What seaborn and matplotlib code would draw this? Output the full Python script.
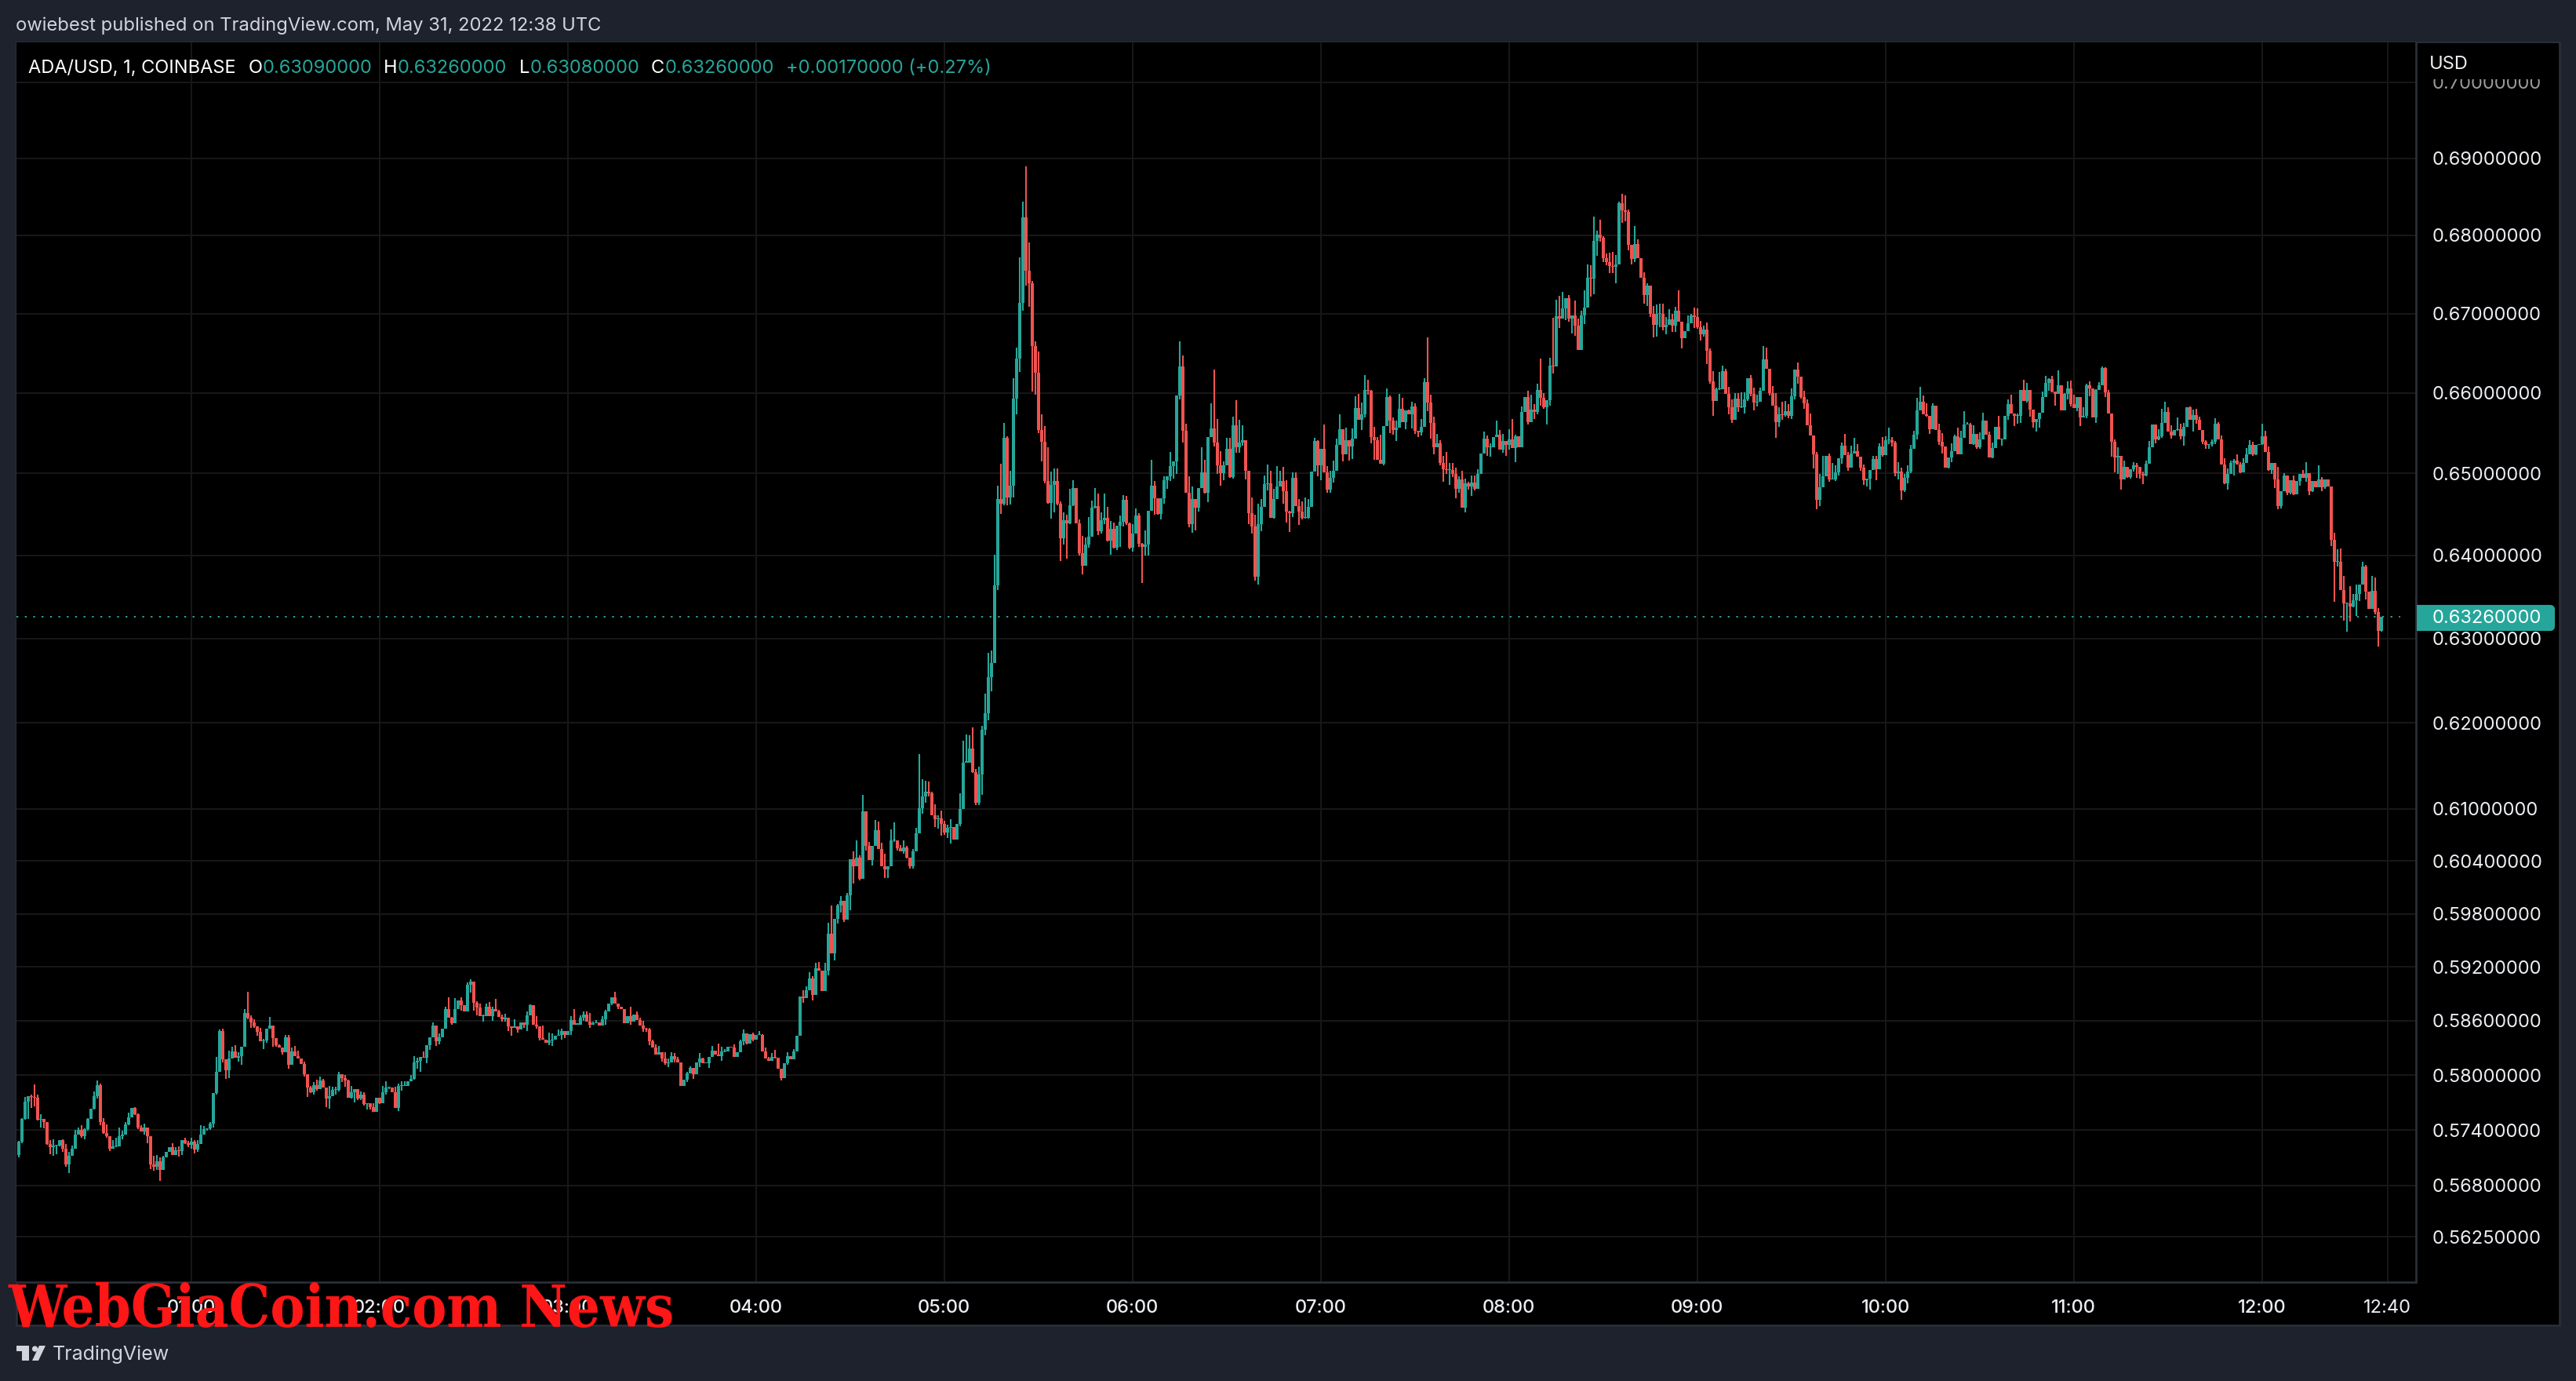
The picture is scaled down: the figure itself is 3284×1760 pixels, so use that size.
import numpy as np
import pandas as pd
import matplotlib
matplotlib.use("Agg")
import matplotlib.pyplot as plt
import seaborn as sns
from matplotlib.patches import Rectangle, Polygon, Circle, FancyBboxPatch
from matplotlib.ticker import NullLocator

# ADA/USD 1 minute candles, prices in 1/10000 USD
first_minute = 5   # minutes after 00:00
first_open = 5713

closes = [
    # 00:05 - 02:09
    5727,5752,5771,5777,5776,5775,5751,5752,5749,5725,5721,5723,5723,5729,5720,5703,5712,5720,5735,5740,5733,5741,5752,5763,5777,
    5789,5749,5737,5733,5720,5722,5722,5733,5735,5746,5754,5764,5757,5743,5738,5743,5733,5703,5700,5706,5697,5710,5716,5721,5713,
    5718,5717,5729,5726,5724,5727,5719,5725,5735,5741,5742,5747,5780,5804,5849,5817,5805,5818,5826,5819,5821,5831,5869,5863,5858,
    5854,5848,5837,5838,5851,5855,5841,5833,5830,5825,5842,5811,5826,5821,5818,5812,5801,5786,5781,5789,5785,5794,5786,5774,5777,
    5784,5784,5801,5797,5794,5775,5781,5785,5774,5779,5768,5769,5765,5760,5775,5769,5781,5786,5786,5781,5764,5788,5788,5788,5793,
    # 02:10 - 04:14
    5796,5814,5816,5820,5819,5833,5842,5855,5837,5842,5851,5873,5863,5857,5873,5883,5877,5870,5900,5904,5880,5875,5865,5865,5876,
    5865,5873,5870,5864,5862,5863,5854,5852,5854,5850,5858,5856,5866,5877,5856,5854,5841,5839,5836,5838,5839,5843,5844,5849,5844,
    5849,5861,5856,5856,5863,5867,5859,5856,5857,5858,5855,5862,5870,5879,5886,5879,5876,5873,5857,5865,5859,5867,5861,5855,5851,
    5850,5837,5830,5823,5825,5818,5813,5814,5821,5817,5814,5788,5795,5802,5808,5801,5814,5818,5813,5813,5820,5827,5823,5821,5826,
    5826,5831,5830,5820,5825,5837,5846,5835,5845,5839,5844,5844,5826,5818,5816,5820,5819,5807,5797,5813,5821,5817,5826,5843,5887,
    # 04:15 - 05:22
    5885,5894,5907,5889,5919,5916,5893,5916,5957,5935,5974,5989,5995,5973,6001,6042,6034,6044,6020,6097,6057,6041,6057,6075,6054,
    6034,6030,6034,6064,6064,6055,6051,6056,6044,6034,6051,6072,6101,6114,6120,6118,6093,6088,6089,6083,6073,6078,6079,6065,6083,
    6100,6154,6154,6170,6143,6107,6140,6192,6211,6254,6271,6364,6469,6463,6544,6471,6485,6593,
    # 05:23 - 07:41
    6643,6713,6823,6754,6738,6659,6625,6554,6539,6491,6464,6486,6491,6463,6421,6443,6439,6461,6482,6439,6403,6387,6413,6423,6458,
    6460,6429,6443,6446,6418,6432,6409,6436,6441,6468,6439,6409,6426,6448,6414,6410,6413,6454,6485,6470,6450,6470,6492,6497,6509,
    6515,6597,6633,6553,6476,6438,6469,6458,6482,6501,6476,6545,6556,6538,6510,6500,6510,6530,6496,6560,6532,6538,6541,6503,6451,
    6435,6374,6438,6459,6487,6488,6446,6469,6484,6491,6478,6453,6451,6495,6460,6453,6446,6446,6459,6502,6540,6510,6530,6501,6480,
    6495,6503,6535,6555,6524,6541,6533,6543,6581,6566,6573,6604,6603,6545,6541,6517,6512,6559,6595,6565,6554,6557,6580,6564,6578,
    6573,6583,6553,6551,6558,6613,6588,6563,6532,6537,6513,6505,6504,6504,
    # 07:42 - 10:01
    6499,6481,6493,6458,6488,6484,6489,6481,6499,6525,6543,6532,6532,6545,6548,6529,6540,6535,6542,6531,6546,6532,6576,6595,6564,
    6579,6576,6604,6594,6582,6591,6634,6633,6697,6694,6706,6719,6694,6698,6685,6654,6698,6707,6745,6744,6793,6801,6797,6771,6766,
    6761,6760,6763,6841,6832,6830,6788,6770,6789,6771,6745,6723,6735,6700,6686,6700,6700,6683,6686,6693,6685,6703,6690,6669,6678,
    6688,6698,6696,6683,6674,6680,6653,6614,6590,6605,6605,6627,6599,6582,6566,6593,6582,6582,6592,6618,6599,6588,6589,6603,6642,
    6630,6600,6584,6564,6573,6572,6577,6571,6596,6629,6620,6595,6587,6560,6547,6524,6468,6483,6497,6522,6493,6493,6501,6519,6534,
    6523,6507,6525,6528,6521,6507,6492,6494,6504,6518,6505,6533,6523,6541,6541,
    # 10:02 - 12:38
    6538,6500,6502,6479,6495,6502,6530,6548,6578,6589,6573,6571,6555,6584,6554,6539,6533,6507,6520,6528,6546,6524,6544,6561,6561,
    6536,6549,6532,6542,6565,6548,6520,6531,6558,6542,6542,6571,6586,6574,6571,6571,6604,6590,6604,6579,6564,6567,6575,6595,6612,
    6617,6602,6599,6610,6578,6599,6606,6586,6581,6595,6569,6571,6610,6606,6569,6604,6610,6631,6601,6574,6539,6520,6522,6493,6508,
    6496,6505,6510,6508,6499,6498,6512,6532,6561,6542,6546,6563,6576,6552,6547,6554,6555,6546,6558,6582,6566,6572,6566,6554,6539,
    6535,6536,6539,6562,6542,6511,6488,6499,6513,6516,6511,6501,6513,6524,6535,6524,6535,6536,6546,6527,6504,6513,6493,6460,6478,
    6498,6476,6492,6474,6491,6499,6495,6500,6478,6491,6483,6493,6483,6493,6484,6419,6392,6392,6358,6342,6342,6338,6346,6353,6365,
    6386,6356,6335,6357,6332,6309,6326,
]

# wick length above the body of each candle
upper_wicks = [
    1,1,5,0,2,14,4,5,0,0,4,7,1,0,1,5,4,3,5,3,5,1,1,0,5,
    5,2,4,9,0,7,10,10,4,3,5,0,1,1,2,4,0,0,9,7,4,2,0,0,5,
    3,4,0,3,2,5,2,4,10,3,0,2,0,16,1,2,0,9,5,7,4,0,4,23,3,
    4,0,4,2,0,9,0,0,1,0,2,2,4,6,6,0,3,0,2,3,6,4,2,0,11,
    3,3,3,0,3,1,7,0,0,3,2,0,0,4,0,0,7,7,1,0,6,3,5,5,0,
    4,7,3,0,6,0,0,3,0,4,0,3,13,1,12,0,3,0,3,2,0,2,4,2,3,
    5,3,11,2,3,5,0,0,8,0,0,0,4,1,0,9,0,14,0,9,7,0,6,2,0,
    0,4,12,0,3,3,3,10,2,3,0,3,2,0,0,6,0,0,0,0,11,0,3,2,5,
    1,2,2,4,7,0,7,4,4,3,3,0,0,2,2,0,0,6,1,0,0,5,0,12,5,
    3,0,0,4,0,2,4,0,0,2,0,5,1,4,2,4,8,0,0,0,4,0,3,0,0,
    7,4,7,3,6,7,0,9,13,32,0,2,5,0,3,0,9,20,3,19,0,5,0,12,10,
    7,14,0,12,20,0,3,8,1,0,3,6,63,20,13,12,2,12,4,9,3,4,9,0,0,
    18,25,33,16,25,3,9,5,24,29,15,37,16,43,19,2,18,25,
    14,59,20,66,37,3,6,27,19,20,41,16,15,15,3,9,6,20,10,0,5,21,9,24,9,
    22,15,9,29,13,10,8,0,7,5,4,1,12,9,3,1,17,0,32,6,0,0,5,0,18,
    0,0,32,14,9,21,15,0,0,31,16,0,31,73,29,18,5,14,14,10,31,28,19,0,0,
    20,14,25,10,11,23,15,12,25,12,17,14,1,6,6,9,13,25,10,0,4,1,0,31,8,
    8,13,8,18,0,16,0,13,15,18,15,18,12,1,13,4,31,0,11,2,4,8,19,14,0,
    1,6,4,0,9,5,57,10,7,12,4,9,22,9,
    9,8,4,10,6,2,9,9,6,0,9,4,5,0,17,6,9,0,13,25,2,0,7,0,8,
    19,7,7,39,6,0,10,61,20,25,21,0,4,0,18,9,5,22,18,17,31,5,19,2,6,
    12,18,12,2,13,20,3,0,23,6,0,7,3,0,9,11,12,12,10,12,7,5,26,0,0,
    10,2,9,10,8,5,9,3,13,2,21,7,3,9,10,7,7,19,9,0,4,8,9,4,17,
    15,0,9,16,9,16,13,9,10,0,9,0,8,5,14,0,3,16,25,0,3,20,9,0,4,
    15,4,9,16,8,0,4,0,0,4,4,4,12,5,16,
    4,2,12,5,4,8,5,5,16,19,8,14,0,3,0,8,11,0,0,9,2,11,9,16,3,
    2,11,0,9,10,0,4,7,0,13,0,0,6,12,0,3,0,12,8,0,0,0,0,7,9,
    1,4,0,18,0,1,8,9,12,0,0,11,1,4,0,1,3,2,1,3,0,3,10,0,8,
    0,0,4,3,0,3,4,8,0,0,9,17,13,6,8,0,14,7,5,0,1,7,8,4,0,
    2,0,3,6,2,5,8,7,3,2,8,3,6,7,6,4,0,0,16,7,6,0,0,15,0,
    2,0,0,6,0,0,5,14,0,0,0,17,3,0,0,0,8,15,16,17,0,21,7,12,0,
    6,2,0,18,16,4,0,
]

# wick length below the body of each candle
lower_wicks = [
    3,1,1,19,12,9,1,8,7,1,7,9,9,1,4,3,10,0,0,0,1,3,2,0,1,
    3,4,1,1,3,0,1,0,3,0,1,0,1,2,0,3,7,5,4,3,12,0,0,0,0,
    0,6,4,1,3,4,4,3,0,0,2,2,4,1,0,3,9,8,0,0,4,10,0,1,6,
    2,5,0,8,2,0,10,2,0,2,0,4,0,0,0,0,3,10,1,2,2,0,0,9,11,
    0,5,2,5,7,0,1,11,1,1,1,6,3,0,0,1,0,2,1,0,0,3,5,0,0,
    0,1,7,12,0,6,5,0,5,3,0,0,0,1,0,0,6,0,0,9,9,9,0,6,0,
    0,5,0,0,3,3,5,9,0,3,0,4,7,0,0,3,3,0,0,3,6,0,0,5,3,
    0,5,0,0,0,3,0,4,0,0,0,0,6,0,2,0,3,0,0,0,3,0,0,0,3,
    2,4,0,0,0,3,2,4,0,3,0,0,0,3,0,5,0,5,0,0,5,0,0,0,5,
    1,0,0,0,0,0,4,1,0,2,0,0,0,0,0,0,1,0,3,0,2,0,0,0,0,
    5,0,0,6,0,0,0,0,5,0,8,5,8,2,0,17,20,0,2,0,5,0,6,0,0,
    0,9,9,0,2,3,0,3,1,3,3,0,0,7,7,4,0,9,11,14,3,7,18,0,0,
    3,0,0,0,1,3,3,24,6,8,17,0,6,13,2,10,9,14,
    20,17,10,19,30,57,27,4,24,3,1,19,34,2,28,8,43,1,1,0,3,10,0,4,0,
    1,4,3,5,1,17,1,3,26,6,2,2,4,0,4,43,10,13,0,21,1,6,7,11,6,
    15,16,5,15,0,4,11,28,5,0,1,11,0,5,11,15,8,0,1,2,6,6,4,10,13,
    9,5,9,9,0,8,0,1,0,0,15,13,23,4,0,16,2,1,1,0,0,13,18,0,4,
    4,6,0,0,9,0,17,15,0,0,12,4,5,8,24,0,0,2,0,15,6,14,0,0,9,
    0,17,4,6,4,0,11,20,8,0,3,15,5,18,
    3,11,5,0,6,4,12,2,0,0,0,10,11,0,0,0,3,13,6,0,17,0,0,0,3,
    0,9,3,10,2,21,7,9,0,12,0,14,4,19,13,0,0,11,0,23,20,19,5,5,4,
    10,9,22,0,16,12,7,7,4,0,0,11,14,4,16,15,17,4,9,0,8,8,0,13,0,
    0,0,14,2,8,3,17,3,19,0,1,0,0,9,3,0,6,1,8,2,3,10,5,0,0,
    0,3,0,20,6,6,2,3,4,4,9,2,7,0,0,18,12,8,0,0,3,0,2,3,7,
    0,4,0,0,0,4,6,8,14,0,13,0,2,0,5,
    5,3,7,11,2,7,2,0,6,0,0,1,6,0,0,4,8,0,1,6,0,0,0,0,0,
    0,1,2,2,0,0,0,1,0,0,8,0,5,0,12,9,8,0,2,9,7,12,10,0,0,
    9,1,15,0,0,0,7,3,0,4,10,0,3,10,0,6,0,0,6,0,18,19,21,13,0,
    1,2,3,13,5,11,1,0,0,5,1,2,0,0,4,0,1,4,12,0,0,14,4,0,3,
    5,5,3,3,0,0,1,8,0,15,0,1,0,0,0,2,1,0,1,0,1,5,11,4,3,
    0,3,2,1,0,6,0,5,5,1,0,0,5,2,0,8,48,6,0,21,34,18,1,19,8,
    0,9,0,0,3,19,1,
]

hour_minutes = [60, 120, 180, 240, 300, 360, 420, 480, 540, 600, 660, 720, 760]
hour_labels = ["01:00", "02:00", "03:00", "04:00", "05:00", "06:00", "07:00",
               "08:00", "09:00", "10:00", "11:00", "12:00", "12:40"]
price_ticks = [0.70, 0.69, 0.68, 0.67, 0.66, 0.65, 0.64, 0.63, 0.62, 0.61,
               0.604, 0.598, 0.592, 0.586, 0.58, 0.574, 0.568, 0.5625]
last_price = 0.6326

title_text = "owiebest published on TradingView.com, May 31, 2022 12:38 UTC"
legend_name = "ADA/USD, 1, COINBASE"
legend_values = [("O", "0.63090000", 317, 335), ("H", "0.63260000", 489, 507),
                 ("L", "0.63080000", 662, 676), ("C", "0.63260000", 830, 848)]
legend_change = "+0.00170000 (+0.27%)"

UP = "#26a69a"
DOWN = "#ef5350"
BG = "#1e222d"
BORDER = "#2a2e39"
GRID = "#171717"
TXT = "#eceef2"

if not (len(closes) == len(upper_wicks) == len(lower_wicks)):
    raise ValueError(f"{len(closes)} {len(upper_wicks)} {len(lower_wicks)}")

df = pd.DataFrame({"close": closes, "up": upper_wicks, "down": lower_wicks})
df["minute"] = first_minute + np.arange(len(df))
df["open"] = df["close"].shift(1).fillna(first_open)
df["top"] = df[["open", "close"]].max(axis=1)
df["bottom"] = df[["open", "close"]].min(axis=1)
df["high"] = df["top"] + df["up"]
df["low"] = df["bottom"] - df["down"]
df["side"] = np.where(df["close"] >= df["open"], "up", "down")
# a flat candle still shows as a thin bar
df["bar_top"] = np.maximum(df["top"], df["bottom"] + 1)

wick_df = df.melt(id_vars=["minute", "side"], value_vars=["low", "high"], value_name="price")
body_df = df.melt(id_vars=["minute", "side"], value_vars=["bottom", "bar_top"], value_name="price")
wick_df["price"] /= 10000
body_df["price"] /= 10000

sns.set_theme(style="dark")
plt.rcParams["font.family"] = ["Inter", "DejaVu Sans"]
plt.rcParams["lines.solid_capstyle"] = "butt"

W, H = 3284, 1760
fig = plt.figure(figsize=(W / 100, H / 100), dpi=100, facecolor=BG)


def box(x0, y0, x1, y1):
    return [x0 / W, 1 - y1 / H, (x1 - x0) / W, (y1 - y0) / H]


# black panel behind chart and both scales
back = fig.add_axes(box(21, 54, 3263, 1689), facecolor="black", zorder=0)
back.set_xticks([])
back.set_yticks([])
for s in back.spines.values():
    s.set_color(BORDER)
    s.set_linewidth(2)

ax = fig.add_axes(box(21, 54, 3080, 1634), facecolor="black", zorder=1)
ax.set_yscale("log")
ax.set_xlim(4.375, 769.1)
ax.set_ylim(0.5577, 0.7053)
ax.grid(True, color=GRID, linewidth=1.5)
ax.set_axisbelow(True)

palette = {"up": UP, "down": DOWN}
sns.lineplot(data=wick_df, x="minute", y="price", hue="side", units="minute", estimator=None,
             palette=palette, linewidth=1.5, legend=False, ax=ax)
sns.lineplot(data=body_df, x="minute", y="price", hue="side", units="minute", estimator=None,
             palette=palette, linewidth=2.9, legend=False, ax=ax)
ax.axhline(last_price, color=UP, linewidth=1.4, linestyle=(0, (1.2, 4.3)), zorder=1.5)

ax.set_xlabel("")
ax.set_ylabel("")
ax.set_xticks(hour_minutes)
ax.set_xticklabels(hour_labels, fontsize=17, color=TXT, fontweight="medium")
ax.get_xticklabels()[-1].set_fontweight("normal")
ax.yaxis.tick_right()
ax.set_yticks(price_ticks)
ax.set_yticklabels([f"{p:.8f}" for p in price_ticks], fontsize=17, color=TXT)
ax.yaxis.set_minor_locator(NullLocator())
ax.tick_params(axis="x", length=0, pad=15.5)
ax.tick_params(axis="y", length=0, pad=15)
ax.set_xlim(4.375, 769.1)
ax.set_ylim(0.5577, 0.7053)
ax.spines["top"].set_visible(False)
ax.spines["left"].set_visible(False)
for name in ["right", "bottom"]:
    ax.spines[name].set_color(BORDER)
    ax.spines[name].set_linewidth(2)

# overlay in picture pixels for the header, price tag and footer
ov = fig.add_axes([0, 0, 1, 1], zorder=3)
ov.set_xlim(0, W)
ov.set_ylim(H, 0)
ov.axis("off")
ov.patch.set_alpha(0)

ov.add_patch(Rectangle((3082, 55), 180, 46, facecolor="black", edgecolor="none"))
ov.add_patch(Rectangle((3082, 100), 180, 15, facecolor="black", alpha=0.35, edgecolor="none"))
ov.text(3097, 82, "USD", fontsize=17, color=TXT, va="center")

ov.add_patch(FancyBboxPatch((3070, 773), 185, 29, boxstyle="round,pad=0,rounding_size=4",
                            facecolor=UP, edgecolor=UP, linewidth=3))
ov.add_patch(Rectangle((3060, 768), 20.5, 38, facecolor="black", edgecolor="none"))
ov.plot([3080, 3080], [760, 815], color=BORDER, linewidth=1.5)
ov.text(3101, 788, f"{last_price:.8f}", fontsize=17, color="white", va="center")

ov.text(20, 32.5, title_text, fontsize=17.1, color="#d1d4dc", va="center")
ov.text(36, 87, legend_name, fontsize=17, color="white", va="center")
for letter, value, lx, vx in legend_values:
    ov.text(lx, 87, letter, fontsize=17, color="white", va="center")
    ov.text(vx, 87, value, fontsize=17, color=UP, va="center")
ov.text(1002, 87, legend_change, fontsize=17, color=UP, va="center")

ov.text(10, 1691, "WebGiaCoin.com News", fontsize=53, color="#ff1616", fontweight="bold",
        fontfamily="DejaVu Serif", stretch="condensed", va="baseline")

ov.add_patch(Polygon([(21, 1715), (37, 1715), (37, 1734), (28, 1734), (28, 1722), (21, 1722)],
                     facecolor="#d1d4dc", edgecolor="none"))
ov.add_patch(Circle((44.5, 1719), 3.6, facecolor="#d1d4dc", edgecolor="none"))
ov.add_patch(Polygon([(50, 1715), (58, 1715), (49, 1734), (41, 1734)],
                     facecolor="#d1d4dc", edgecolor="none"))
ov.text(67, 1726.5, "TradingView", fontsize=18, color="#d1d4dc", va="center")

fig.savefig("out.png", dpi=100, facecolor=BG)
